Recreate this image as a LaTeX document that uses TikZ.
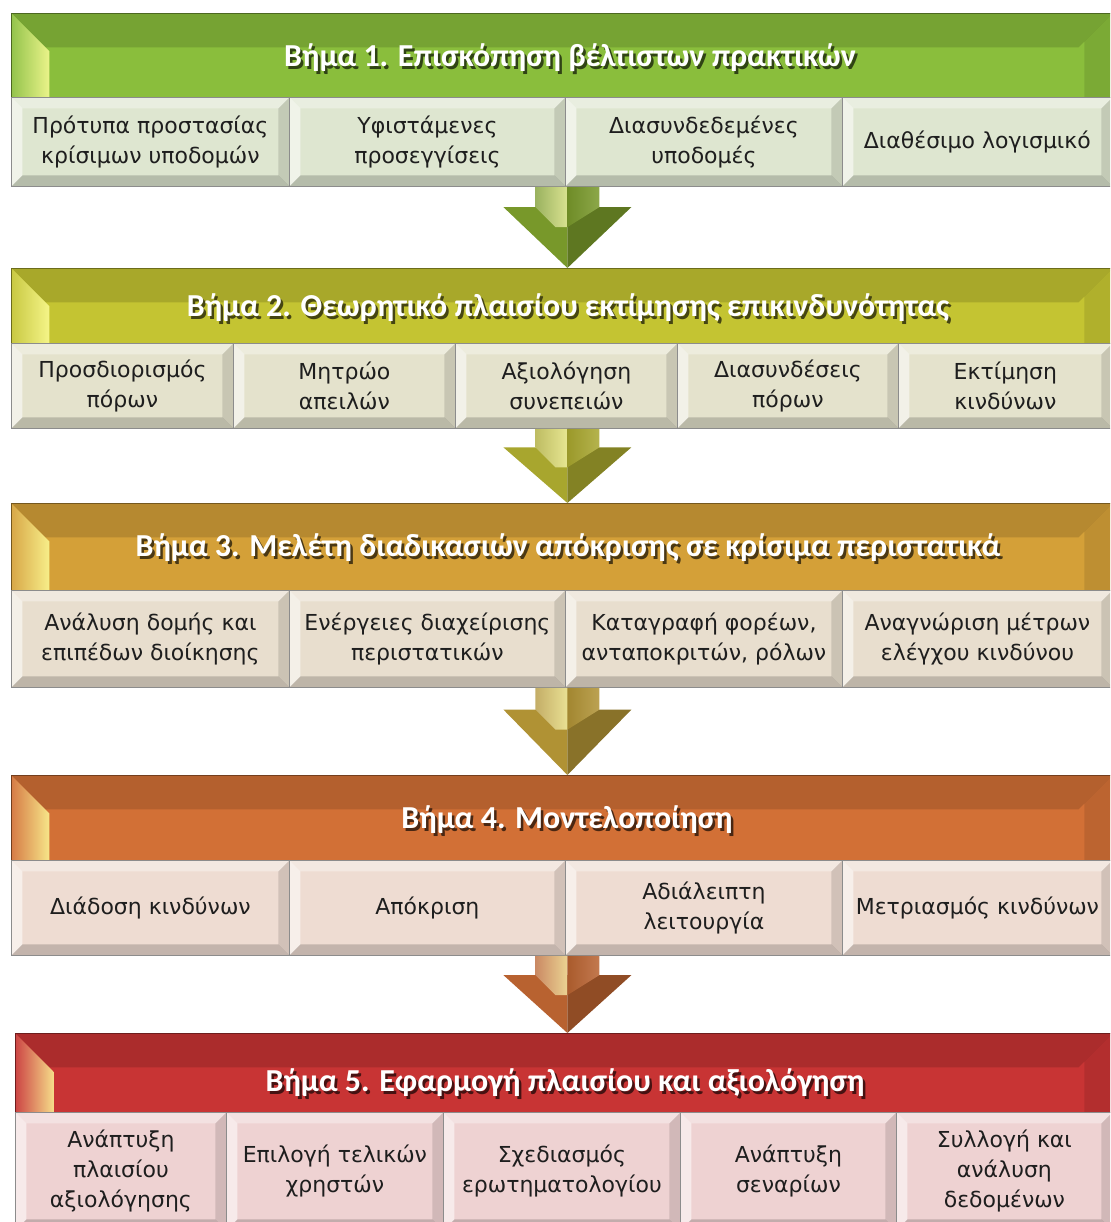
\documentclass[tikz,border=0pt]{standalone}
\usepackage{fontspec}
\setmainfont{DejaVu Sans}
\newfontfamily\headfont{Carlito}
\usetikzlibrary{calc}

% block colours
\definecolor{hA}{RGB}{138,190,60}
\definecolor{hB}{RGB}{196,196,50}
\definecolor{hC}{RGB}{212,160,56}
\definecolor{hD}{RGB}{210,112,54}
\definecolor{hE}{RGB}{200,52,52}
\definecolor{fA}{RGB}{222,230,208}
\definecolor{fB}{RGB}{228,226,204}
\definecolor{fC}{RGB}{232,222,206}
\definecolor{fD}{RGB}{238,220,210}
\definecolor{fE}{RGB}{238,210,210}
\definecolor{aA}{RGB}{120,152,42}
\definecolor{aB}{RGB}{168,166,46}
\definecolor{aC}{RGB}{176,146,52}
\definecolor{aD}{RGB}{184,98,48}
\definecolor{tilefg}{RGB}{30,30,30}

\tikzset{
  header/.style={draw=#1!55!black, line width=0.8pt, fill=#1, inner sep=0pt,
    anchor=north west,
    path picture={
      \path (path picture bounding box.north west) coordinate (pNW)
            (path picture bounding box.north east) coordinate (pNE)
            (path picture bounding box.south west) coordinate (pSW)
            (path picture bounding box.south east) coordinate (pSE);
      \fill[black,opacity=.14] (pNW) -- (pNE) -- ($(pNE)+(-34,34)$) -- ($(pNW)+(34,34)$) -- cycle;
      \shade[left color=#1!92!white, right color=#1!35!yellow!50!white]
        (pNW) -- ($(pNW)+(38,38)$) -- ($(pSW)+(38,0)$) -- (pSW) -- cycle;
      \fill[black,opacity=.10] (pNE) -- (pSE) -- ($(pSE)+(-28,0)$) -- ($(pNE)+(-28,28)$) -- cycle;
    }},
  tile/.style={draw=black!45, line width=0.8pt, fill=#1, inner sep=0pt,
    anchor=north west, align=center, text=tilefg,
    font=\fontsize{22}{30}\selectfont,
    path picture={
      \path (path picture bounding box.north west) coordinate (pNW)
            (path picture bounding box.north east) coordinate (pNE)
            (path picture bounding box.south west) coordinate (pSW)
            (path picture bounding box.south east) coordinate (pSE);
      \fill[white,opacity=.55] (pNW) -- ($(pNW)+(11,11)$) -- ($(pSW)+(11,-11)$) -- (pSW) -- cycle;
      \fill[white,opacity=.35] (pNW) -- (pNE) -- ($(pNE)+(-11,11)$) -- ($(pNW)+(11,11)$) -- cycle;
      \fill[black,opacity=.12] (pNE) -- (pSE) -- ($(pSE)+(-11,-11)$) -- ($(pNE)+(-11,11)$) -- cycle;
      \fill[black,opacity=.18] (pSW) -- (pSE) -- ($(pSE)+(-11,-11)$) -- ($(pSW)+(11,-11)$) -- cycle;
    }},
  title/.style={text=white, font=\headfont\bfseries\fontsize{32}{38}\selectfont},
}

% white title with a dark drop shadow set behind it
\newcommand\shadowed[2]{%
  \makebox[0pt][l]{\hspace{2.5pt}\raisebox{-2.5pt}{\textcolor{#1}{#2}}}#2}

% tile with given corners: name, x1, y1, x2, y2, colour, text
\newcommand\tileat[7]{%
  \pgfmathsetmacro\tileW{#4-#2}\pgfmathsetmacro\tileH{#5-#3}%
  \node[tile=#6, minimum width=\tileW pt, minimum height=\tileH pt] (#1) at (#2,#3) {#7};}
% header band: name, y1, y2, colour, x1
\newcommand\headat[5]{%
  \pgfmathsetmacro\tileW{1112-#5}\pgfmathsetmacro\tileH{#3-#2}%
  \node[header=#4, minimum width=\tileW pt, minimum height=\tileH pt] (#1) at (#5,#2) {};}
% downward block arrow: start coordinate, tip coordinate, colour
\newcommand\blockarrow[3]{%
  \fill[#3] let \p1=(#1), \p2=(#2), \n1={0.75*(\y1-\y2)} in
    (\x2-64pt,\y2+\n1) -- (\x2,\y2+\n1) -- (\x2,\y2) -- cycle;
  \fill[#3!78!black] let \p1=(#1), \p2=(#2), \n1={0.75*(\y1-\y2)} in
    (\x2,\y2+\n1) -- (\x2+64pt,\y2+\n1) -- (\x2,\y2) -- cycle;
  \shade[left color=#3!75!white, right color=#3!35!white!80!yellow]
    let \p1=(#1), \p2=(#2), \n1={0.75*(\y1-\y2)} in
    (\x2-32pt,\y1) -- (\x2,\y1) -- (\x2,\y2+\n1-20pt)
      -- (\x2-12pt,\y2+\n1-20pt) -- (\x2-32pt,\y2+\n1) -- cycle;
  \shade[left color=#3!92!black, right color=#3!85!white]
    let \p1=(#1), \p2=(#2), \n1={0.75*(\y1-\y2)} in
    (\x2,\y1) -- (\x2+32pt,\y1) -- (\x2+32pt,\y2+\n1) -- (\x2,\y2+\n1-20pt) -- cycle;}

\begin{document}
\begin{tikzpicture}[x=1pt,y=-1pt]
\useasboundingbox (0,0) rectangle (1110,1222);
\clip (0,0) rectangle (1110,1222);

% ---- Step 1
\headat{h1}{13}{97}{hA}{11}
\node[title] (t1) at (570,59) {\shadowed{hA!35!black}{Βήμα 1. Επισκόπηση βέλτιστων πρακτικών}};
\tileat{s11}{11}{97}{289}{186}{fA}{Πρότυπα προστασίας\\κρίσιμων υποδομών}
\tileat{s12}{289}{97}{565}{186}{fA}{Υφιστάμενες\\προσεγγίσεις}
\tileat{s13}{565}{97}{842}{186}{fA}{Διασυνδεδεμένες\\υποδομές}
\tileat{s14}{842}{97}{1112}{186}{fA}{Διαθέσιμο λογισμικό}

% ---- Step 2
\headat{h2}{268}{343}{hB}{11}
\node[title] (t2) at (568,309) {\shadowed{hB!35!black}{Βήμα 2. Θεωρητικό πλαισίου εκτίμησης επικινδυνότητας}};
\tileat{s21}{11}{343}{233}{428}{fB}{Προσδιορισμός\\πόρων}
\tileat{s22}{233}{343}{455}{428}{fB}{Μητρώο\\απειλών}
\tileat{s23}{455}{343}{677}{428}{fB}{Αξιολόγηση\\συνεπειών}
\tileat{s24}{677}{343}{898}{428}{fB}{Διασυνδέσεις\\πόρων}
\tileat{s25}{898}{343}{1112}{428}{fB}{Εκτίμηση\\κινδύνων}

% ---- Step 3
\headat{h3}{503}{590}{hC}{11}
\node[title] (t3) at (568,549) {\shadowed{hC!35!black}{Βήμα 3. Μελέτη διαδικασιών απόκρισης σε κρίσιμα περιστατικά}};
\tileat{s31}{11}{590}{289}{687}{fC}{Ανάλυση δομής και\\επιπέδων διοίκησης}
\tileat{s32}{289}{590}{565}{687}{fC}{Ενέργειες διαχείρισης\\περιστατικών}
\tileat{s33}{565}{590}{842}{687}{fC}{Καταγραφή φορέων,\\ανταποκριτών, ρόλων}
\tileat{s34}{842}{590}{1112}{687}{fC}{Αναγνώριση μέτρων\\ελέγχου κινδύνου}

% ---- Step 4
\headat{h4}{775}{860}{hD}{11}
\node[title] (t4) at (567,821) {\shadowed{hD!35!black}{Βήμα 4. Μοντελοποίηση}};
\tileat{s41}{11}{860}{289}{955}{fD}{Διάδοση κινδύνων}
\tileat{s42}{289}{860}{565}{955}{fD}{Απόκριση}
\tileat{s43}{565}{860}{842}{955}{fD}{Αδιάλειπτη\\λειτουργία}
\tileat{s44}{842}{860}{1112}{955}{fD}{Μετριασμός κινδύνων}

% ---- Step 5
\headat{h5}{1033}{1112}{hE}{15}
\node[title] (t5) at (565,1084) {\shadowed{hE!35!black}{Βήμα 5. Εφαρμογή πλαισίου και αξιολόγηση}};
\tileat{s51}{15}{1112}{226}{1230}{fE}{Ανάπτυξη\\πλαισίου\\αξιολόγησης}
\tileat{s52}{226}{1112}{443}{1230}{fE}{Επιλογή τελικών\\χρηστών}
\tileat{s53}{443}{1112}{680}{1230}{fE}{Σχεδιασμός\\ερωτηματολογίου}
\tileat{s54}{680}{1112}{896}{1230}{fE}{Ανάπτυξη\\σεναρίων}
\tileat{s55}{896}{1112}{1112}{1230}{fE}{Συλλογή και\\ανάλυση\\δεδομένων}

% ---- arrows between the steps
\coordinate (p2) at ($(h2.north)+(5.5,0)$);
\coordinate (p1) at (p2 |- s13.south);
\coordinate (p3) at ($(h3.north)+(5.5,0)$);
\coordinate (q2) at (p3 |- s23.south);
\coordinate (p4) at ($(h4.north)+(5.5,0)$);
\coordinate (q3) at (p4 |- s33.south);
\coordinate (p5) at ($(h5.north)+(3.5,0)$);
\coordinate (q4) at (p5 |- s43.south);
\blockarrow{p1}{p2}{aA}
\blockarrow{q2}{p3}{aB}
\blockarrow{q3}{p4}{aC}
\blockarrow{q4}{p5}{aD}
\end{tikzpicture}
\end{document}
